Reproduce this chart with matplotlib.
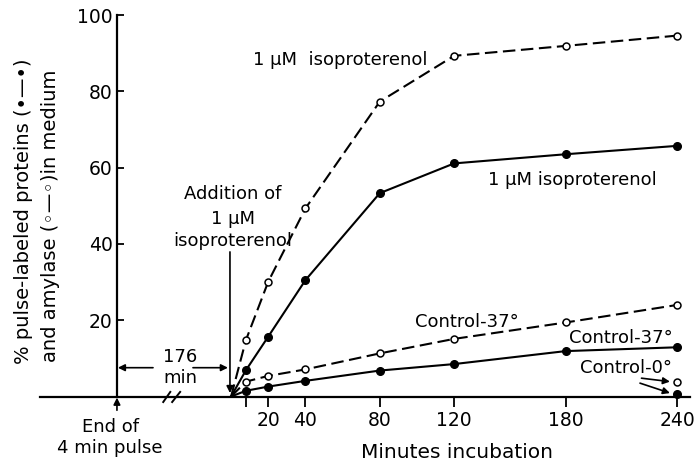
import matplotlib
matplotlib.use("Agg")
import matplotlib.pyplot as plt

# data (minutes after adding isoproterenol, % released)
minutes = [0, 8, 20, 40, 80, 120, 180, 240]
iso_amylase = [0, 14.8, 30.1, 49.3, 77.3, 89.3, 91.9, 94.6]
iso_protein = [0, 6.9, 15.7, 30.5, 53.3, 61.1, 63.5, 65.7]
ctl_amylase = [0, 3.9, 5.4, 7.1, 11.3, 15.1, 19.4, 24.0]
ctl_protein = [0, 1.5, 2.6, 4.1, 6.8, 8.5, 11.9, 12.9]
cold_minutes = [240]
cold_amylase = [3.9]
cold_protein = [0.6]

xticks = [8, 20, 40, 80, 120, 180, 240]
xticklabels = ['', '20', '40', '80', '120', '180', '240']
yticks = [20, 40, 60, 80, 100]

plt.rcParams['font.family'] = 'DejaVu Sans'
plt.rcParams['lines.scale_dashes'] = False

fig = plt.figure(figsize=(6.94, 4.61), dpi=100)
ax = fig.add_axes([40/694, 64.5/461, 650/694, 381.5/461])
ax.set_xlim(-102.8, 246.9)
ax.set_ylim(0, 100)

yaxis_x = -61.4  # where the y axis sits (end of pulse)

# dashed = amylase (open circles), solid = proteins (filled)
def dashed(x, y):
    ax.plot(x, y, color='black', lw=1.5, dashes=(9, 4), clip_on=False)
    ax.plot(x[1:], y[1:], 'o', ms=5, mfc='white', mec='black', mew=1.1,
            clip_on=False, zorder=5)

def solid(x, y):
    ax.plot(x, y, color='black', lw=1.5, clip_on=False)
    ax.plot(x[1:], y[1:], 'o', ms=5.5, color='black', clip_on=False, zorder=5)

dashed(minutes, iso_amylase)
solid(minutes, iso_protein)
dashed(minutes, ctl_amylase)
solid(minutes, ctl_protein)
ax.plot(cold_minutes, cold_amylase, 'o', ms=5, mfc='white', mec='black',
        mew=1.1, clip_on=False, zorder=5)
ax.plot(cold_minutes, cold_protein, 'o', ms=5.5, color='black',
        clip_on=False, zorder=5)

# axes styling
for s in ['top', 'right']:
    ax.spines[s].set_visible(False)
ax.spines['left'].set_position(('data', yaxis_x))
ax.spines['left'].set_bounds(0, 100)
ax.spines['left'].set_linewidth(1.6)
ax.spines['bottom'].set_linewidth(1.6)

ax.set_yticks(yticks)
ax.set_xticks(xticks)
ax.set_xticklabels(xticklabels)
ax.tick_params(axis='y', direction='in', length=5, width=1.3, pad=3,
               labelsize=13.5)
ax.tick_params(axis='x', direction='out', length=7, width=1.3, pad=3.5,
               labelsize=13.5)

ax.set_xlabel('Minutes incubation', fontsize=14.5, va='top')
ax.xaxis.set_label_coords(0.641, -0.122)

fig.text(24/694, 1 - 211.5/461, '% pulse-labeled proteins (•—•)',
         rotation=90, ha='center', va='center', fontsize=14)
fig.text(51/694, 1 - 216/461, 'and amylase (◦—◦)in medium',
         rotation=90, ha='center', va='center', fontsize=14)

# axis break marks
for x0, x1 in [(-36.5, -32.7), (-31.7, -27.4)]:
    ax.plot([x0, x1], [-1.45, 1.2], color='black', lw=1.4, clip_on=False)

arrow = dict(arrowstyle='-|>', color='black', lw=1.2, mutation_scale=10,
             shrinkA=0, shrinkB=0)

# end of pulse
ax.annotate('', xy=(yaxis_x, -0.3), xytext=(yaxis_x, -3.6),
            arrowprops=arrow, annotation_clip=False)
ax.text(-65.1, -7.9, 'End of', ha='center', va='center', fontsize=13)
ax.text(-65.1, -13.5, '4 min pulse', ha='center', va='center', fontsize=13)

# 176 min gap
ax.annotate('', xy=(-60.9, 7.55), xytext=(-42, 7.55), arrowprops=arrow)
ax.annotate('', xy=(-1.7, 7.55), xytext=(-20.5, 7.55), arrowprops=arrow)
ax.text(-27.5, 10.4, '176', ha='center', va='center', fontsize=13)
ax.text(-27.5, 4.8, 'min', ha='center', va='center', fontsize=13)

# addition of isoproterenol
ax.annotate('', xy=(-0.6, 0.9), xytext=(-0.6, 37.9), arrowprops=arrow)
ax.text(1.0, 53.2, 'Addition of', ha='center', va='center', fontsize=13)
ax.text(1.0, 46.6, '1 μM', ha='center', va='center', fontsize=13)
ax.text(1.0, 40.7, 'isoproterenol', ha='center', va='center', fontsize=13)

# curve labels
ax.text(11.7, 88.2, '1 μM  isoproterenol', ha='left', va='center', fontsize=13)
ax.text(138.2, 56.8, '1 μM isoproterenol', ha='left', va='center', fontsize=13)
ax.text(98.8, 19.6, 'Control-37°', ha='left', va='center', fontsize=13)
ax.text(181.8, 15.3, 'Control-37°', ha='left', va='center', fontsize=13)
ax.text(187.5, 7.4, 'Control-0°', ha='left', va='center', fontsize=13)
ax.annotate('', xy=(236.1, 3.9), xytext=(220.8, 4.8), arrowprops=arrow)
ax.annotate('', xy=(236.1, 0.9), xytext=(220.0, 3.5), arrowprops=arrow)

fig.savefig('out.png', dpi=100)
plt.close(fig)
